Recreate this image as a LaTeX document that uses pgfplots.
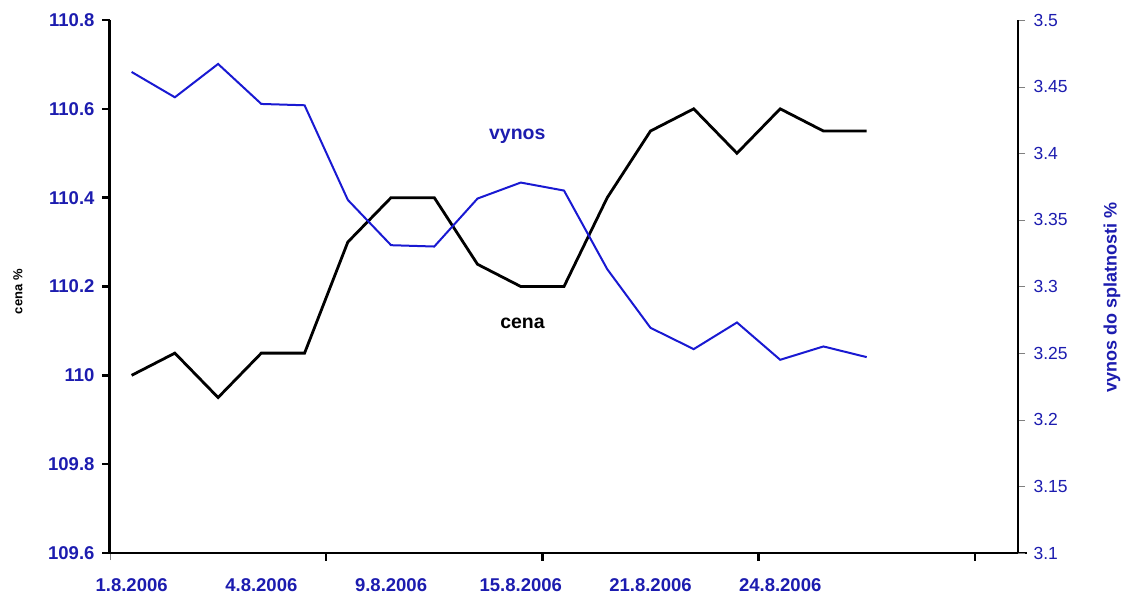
\documentclass[border=0pt]{standalone}
\usepackage{fontspec}
\setmainfont{Liberation Sans}
\usepackage{pgfplots}
\pgfplotsset{compat=1.18}
\definecolor{tblue}{RGB}{28,28,175}
\definecolor{lblue}{RGB}{25,25,210}
\begin{document}
\begin{tikzpicture}
\useasboundingbox (-110pt,-41pt) rectangle (1011pt,553pt);
\begin{axis}[
  scale only axis, width=908pt, height=533pt,
  xmin=0, xmax=21, ymin=109.6, ymax=110.8,
  axis x line=bottom, axis y line=left,
  axis line style={-},
  tick align=outside,
  major tick length=7pt,
  xtick={0,5,10,15,20}, xticklabels={},
  extra x ticks={0.5,3.5,6.5,9.5,12.5,15.5},
  extra x tick labels={1.8.2006,4.8.2006,9.8.2006,15.8.2006,21.8.2006,24.8.2006},
  extra x tick style={major tick length=0pt, tick label style={yshift=-38pt}},
  xticklabel style={font=\fontsize{18.5}{20}\selectfont\bfseries, text=tblue, anchor=base},
  ytick={109.6,109.8,110,110.2,110.4,110.6,110.8},
  yticklabel style={font=\fontsize{18.5}{20}\selectfont\bfseries, text=tblue, xshift=-5pt},
  /pgf/number format/assume math mode=true,
  ylabel={cena \%},
  ylabel style={font=\fontsize{13}{15}\selectfont\bfseries, at={(axis description cs:-0.1014,0.49)}, anchor=center},
  clip=false,
]
\addplot[black, line width=2.8pt, line join=miter] coordinates {
(0.5,110.0) (1.5,110.05) (2.5,109.95) (3.5,110.05) (4.5,110.05) (5.5,110.3)
(6.5,110.4) (7.5,110.4) (8.5,110.25) (9.5,110.2) (10.5,110.2) (11.5,110.4)
(12.5,110.55) (13.5,110.6) (14.5,110.5) (15.5,110.6) (16.5,110.55) (17.5,110.55)};
\draw[black, line width=3pt] (rel axis cs:0,0) -- (rel axis cs:0,1);
\draw[black, line width=2.6pt] (rel axis cs:0,0) ++(-1.5pt,0pt) -- ++(918pt,0pt);
\pgfplotsinvokeforeach{0,0.16667,0.33333,0.5,0.66667,0.83333,1}{
  \draw[black, line width=2.4pt] (rel axis cs:0,#1) -- ++(-8pt,0pt);
}
\pgfplotsinvokeforeach{0.2381,0.47619,0.71429,0.95238}{
  \draw[black, line width=2.4pt] (rel axis cs:#1,0) -- ++(0pt,-8pt);
}
\node[font=\fontsize{19.5}{21}\selectfont\bfseries, text=tblue] at (axis cs:9.42,110.538) {vynos};
\node[font=\fontsize{19.5}{21}\selectfont\bfseries, text=black] at (axis cs:9.54,110.117) {cena};
\end{axis}
\begin{axis}[
  scale only axis, width=908pt, height=533pt,
  xmin=0, xmax=21, ymin=3.1, ymax=3.5,
  axis x line=none, axis y line=right,
  axis line style={-},
  tick align=outside,
  major tick length=7pt,
  ytick={3.1,3.15,3.2,3.25,3.3,3.35,3.4,3.45,3.5},
  yticklabel style={font=\fontsize{17.5}{19}\selectfont, text=tblue, xshift=5pt, /pgf/number format/fixed, /pgf/number format/precision=2},
  /pgf/number format/assume math mode=true,
  ylabel={vynos do splatnosti \%},
  ylabel style={font=\fontsize{18}{20}\selectfont\bfseries, text=tblue, at={(axis description cs:1.1035,0.48)}, anchor=center},
  clip=false,
]
\addplot[lblue, line width=2pt] coordinates {
(0.5,3.461) (1.5,3.442) (2.5,3.467) (3.5,3.437) (4.5,3.436) (5.5,3.365)
(6.5,3.331) (7.5,3.330) (8.5,3.366) (9.5,3.378) (10.5,3.372) (11.5,3.313)
(12.5,3.269) (13.5,3.253) (14.5,3.273) (15.5,3.245) (16.5,3.255) (17.5,3.247)};
\draw[black, line width=1.3pt] (rel axis cs:1,0) -- (rel axis cs:1,1);
\end{axis}
\end{tikzpicture}
\end{document}
